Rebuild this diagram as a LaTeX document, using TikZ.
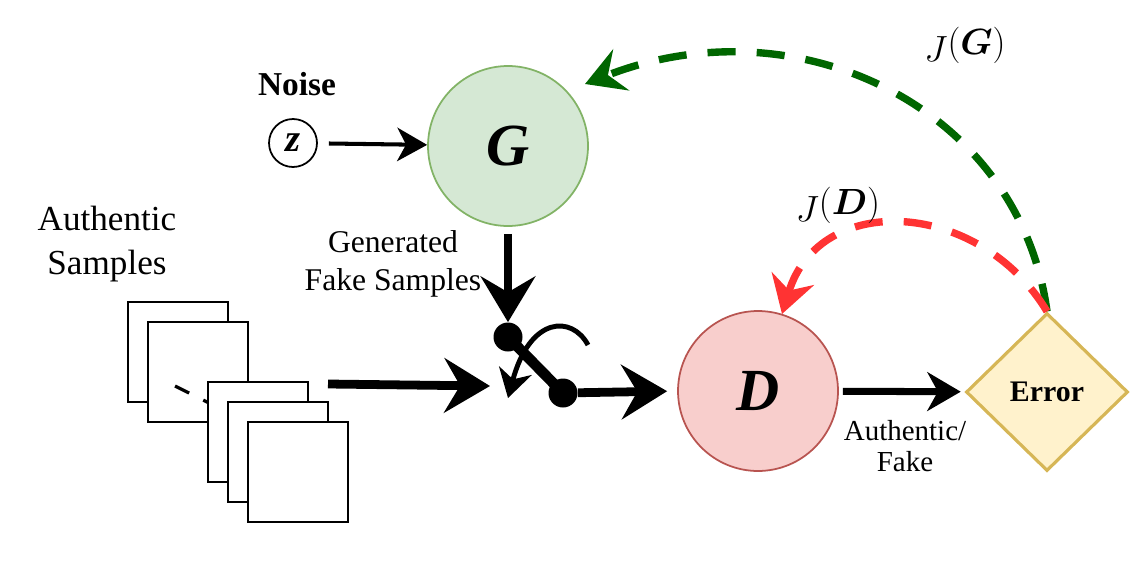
\documentclass[tikz,border=0pt]{standalone}
\usepackage{fontspec}
\setmainfont{Liberation Serif}
\usepackage{amsmath}
\usepackage{bm}
\usepackage{tikz}
\usetikzlibrary{arrows.meta,shapes.geometric}

\definecolor{genfill}{HTML}{D5E8D4}
\definecolor{gendraw}{HTML}{82B366}
\definecolor{discfill}{HTML}{F8CECC}
\definecolor{discdraw}{HTML}{B85450}
\definecolor{errfill}{HTML}{FFF2CC}
\definecolor{errdraw}{HTML}{D6B656}
\definecolor{lossG}{HTML}{006600}
\definecolor{lossD}{HTML}{FF3333}

\begin{document}
\begin{tikzpicture}
  [x=0.02cm,y=-0.02cm,every node/.style={inner sep=0pt},
   net/.style={circle, draw, line width=1pt, minimum size=3.2cm, font=\fontsize{34}{40}\selectfont\bfseries\itshape},
   sample/.style={draw, fill=white, line width=1.1pt, minimum size=2cm},
   dot/.style={circle, fill=black, minimum size=0.58cm},
   big/.style={line width=5pt, -{Stealth[length=26pt,width=31pt,inset=9pt]}},
   loss/.style={line width=4.2pt, dash pattern=on 16pt off 12pt}]
  \useasboundingbox (0,0) rectangle (1141,561);

  % inputs
  \node[font=\fontsize{19}{22}\selectfont\bfseries] (noise) at (297,84) {Noise};
  \node[circle, draw, line width=1pt, minimum size=0.96cm,
        font=\fontsize{22}{24}\selectfont\bfseries\itshape] (z) at (293,143) {z};
  \node[align=center, font=\fontsize{20}{25}\selectfont] (real) at (107,244) {Authentic\\Samples};

  % stack of samples
  \node[sample] (s1) at (178,352) {};
  \node[sample] (s2) at (198,372) {};
  \draw[line width=1.8pt, dash pattern=on 9pt off 9pt] (175,386) -- (215,406);
  \foreach \i/\x/\y in {3/258/432,4/278/452,5/298/472}
    \node[sample] (s\i) at (\x,\y) {};
  \coordinate (stackout) at (328,384);

  % networks
  \node[net, fill=genfill, draw=gendraw] (G) at (508,146) {G};
  \node[net, fill=discfill, draw=discdraw] (D) at (758,391) {D};
  \node[diamond, aspect=1, draw=errdraw, fill=errfill, line width=1.8pt,
        minimum width=3.24cm, minimum height=3.16cm,
        font=\fontsize{17}{20}\selectfont\bfseries] (err) at (1047,392) {Error};

  \node[align=center, font=\fontsize{18}{21.5}\selectfont] (fake) at (393,264) {Generated\\Fake Samples};
  \node[align=center, font=\fontsize{16.5}{18}\selectfont] (out) at (905,446) {Authentic/\\Fake};

  % switch
  \draw[line width=2.8pt, -{Stealth[length=16pt,width=19pt,inset=5pt]}]
    (588,345) .. controls (572,315) and (530,316) .. (508,398);
  \node[dot] (sw1) at (508,337) {};
  \node[dot] (sw2) at (563,393) {};
  \coordinate (swin) at (490,386);
  \draw[line width=6pt] (sw1.center) -- (sw2.center);

  % connectors
  \draw[line width=2.3pt, -{Stealth[length=17pt,width=19pt,inset=5pt]}, shorten <=0.22cm] (z) -- (G);
  \draw[big, shorten <=0.14cm] (G.south) -- (sw1.north);
  \draw[big] (stackout) -- (swin);
  \draw[big, shorten >=0.2cm] (sw2) -- (D.west);
  \draw[line width=4pt, -{Stealth[length=19pt,width=22pt,inset=6pt]}, shorten <=0.08cm, shorten >=0.08cm] (D) -- (err);

  % losses
  \coordinate (gtip) at (585,84);
  \coordinate (dtip) at (782,314);
  \draw[loss, draw=lossG, -{Stealth[length=22pt,width=25pt,inset=8pt,fill=lossG]}]
    (err.north) .. controls (1020,110) and (800,0) .. (gtip);
  \draw[loss, draw=lossD, -{Stealth[length=21pt,width=25pt,inset=7pt,fill=lossD]}]
    (err.north) .. controls (980,200) and (820,190) .. (dtip);
  \node[font=\fontsize{20}{24}\selectfont] (jg) at (965,45) {$J\raisebox{0.45ex}{$(\boldsymbol{G})$}$};
  \node[font=\fontsize{20}{24}\selectfont] (jd) at (838,205) {$J\raisebox{0.45ex}{$(\boldsymbol{D})$}$};
\end{tikzpicture}
\end{document}
